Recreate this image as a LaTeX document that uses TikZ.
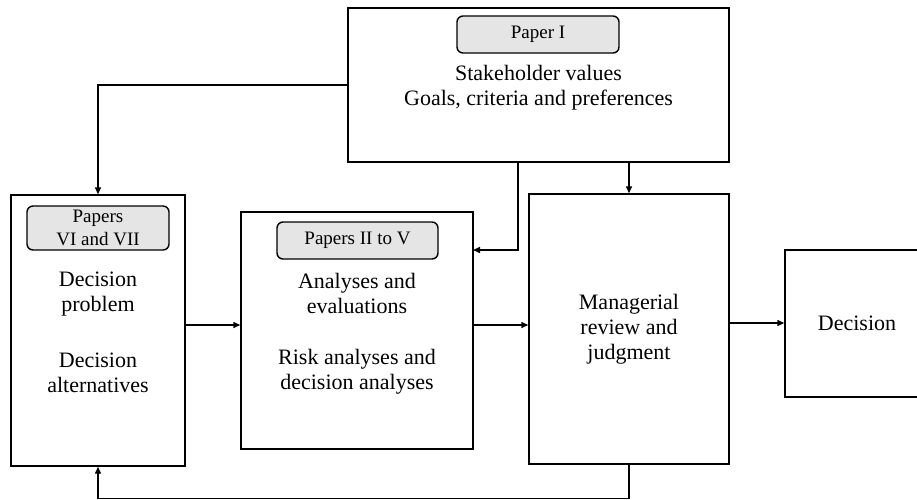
\documentclass[tikz,border=0pt]{standalone}
\usepackage{fontspec}
\setmainfont{Liberation Serif}
\usetikzlibrary{arrows.meta}
\begin{document}
\begin{tikzpicture}
  [x=1pt,y=-1pt,line width=1.4pt,
   box/.style={draw,rectangle,inner sep=0pt},
   pill/.style={draw,rounded corners=6pt,fill=black!10,inner sep=0pt,align=center,font=\fontsize{19}{23}\selectfont},
   txt/.style={align=center,inner sep=0pt,font=\fontsize{22}{25}\selectfont},
   arr/.style={-{Triangle[length=7pt,width=6pt]}}]
  \clip (0,0) rectangle (917,499);
  \useasboundingbox (0,0) rectangle (917,499);

  \node[box,minimum width=381,minimum height=154] (values) at (538.5,85) {};
  \node[box,minimum width=174,minimum height=271] (problem) at (98,330.5) {};
  \node[box,minimum width=232,minimum height=237] (analyses) at (357,330.5) {};
  \node[box,txt,minimum width=200,minimum height=270] (review) at (629,329) {Managerial\\review and\\judgment};
  \node[box,txt,minimum width=144,minimum height=147] (decision) at (857,323.5) {Decision};

  \node[pill,minimum width=162,minimum height=37] (p1) at (538,34.5) {Paper I};
  \node[pill,minimum width=142,minimum height=44] (p6) at (98,228) {Papers\\VI and VII};
  \node[pill,minimum width=161,minimum height=37] (p2) at (357.5,240.5) {Papers II to V};

  \node[txt] (t1) at (538.5,88) {Stakeholder values\\Goals, criteria and preferences};
  \node[txt] (t2) at (98,294) {Decision\\problem};
  \node[txt] (t3) at (98,373) {Decision\\alternatives};
  \node[txt] (t4) at (357,293) {Analyses and\\evaluations};
  \node[txt] (t5) at (357,372) {Risk analyses and\\decision analyses};

  \coordinate (v1) at (518,162);
  \coordinate (a1) at (473,250);

  \draw[arr] (values.west) -| (problem.north);
  \draw[arr] (v1) |- (a1);
  \draw[arr] (values.south -| review.north) -- (review.north);
  \foreach \from/\to in {problem/analyses,analyses/review}
    \draw[arr] (\from.east |- 0,325) -- (\to.west |- 0,325);
  \draw[arr] (review.east |- 0,323) -- (decision.west |- 0,323);
  \draw[arr] (review.south) -- ++(0,34) -| (problem.south);

\end{tikzpicture}
\end{document}
